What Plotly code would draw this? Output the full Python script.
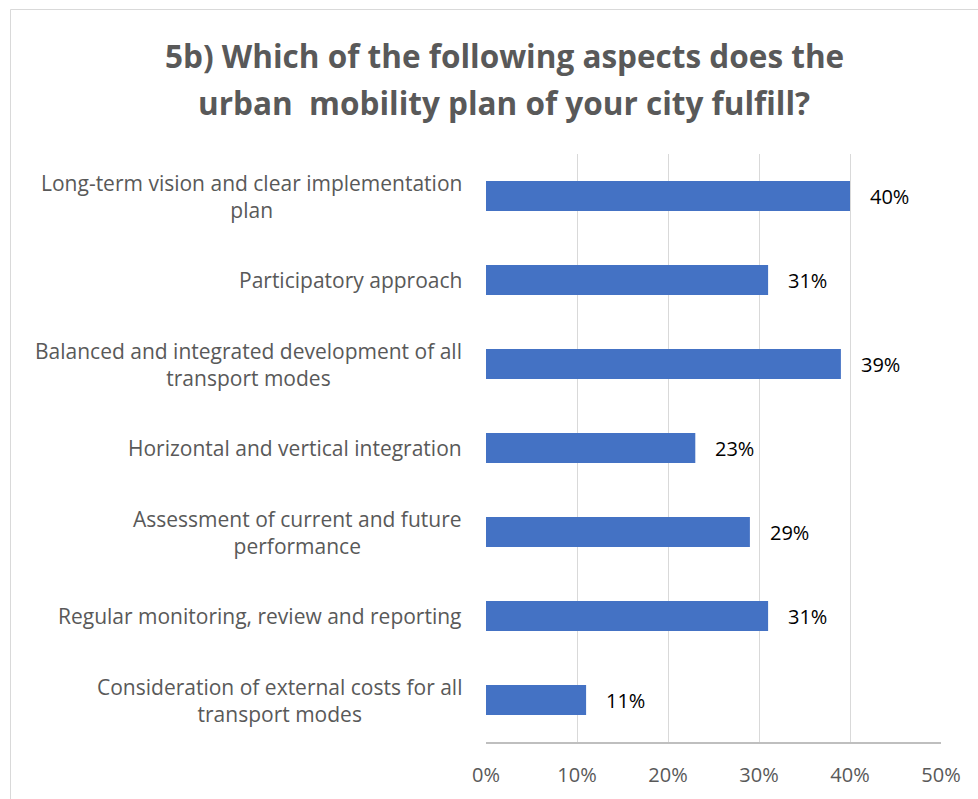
import plotly.graph_objects as go

# Survey results: share of cities whose urban mobility plan fulfils each aspect
categories = [
    "Long-term vision and clear implementation<br>plan",
    "Participatory approach",
    "Balanced and integrated development of all<br>transport modes",
    "Horizontal and vertical integration",
    "Assessment of current and future<br>performance",
    "Regular monitoring, review and reporting",
    "Consideration of external costs for all<br>transport modes",
]
values = [40, 31, 39, 23, 29, 31, 11]
value_labels = ["40%", "31%", "39%", "23%", "29%", "31%", "11%"]
x_ticks = [0, 10, 20, 30, 40, 50]
x_tick_labels = ["0%", "10%", "20%", "30%", "40%", "50%"]
title_lines = [
    "5b) Which of the following aspects does the",
    "urban  mobility plan of your city fulfill?",
]

W, H = 978, 799
ML, MR, MT, MB = 486, 37, 154, 57
pw, ph = W - ML - MR, H - MT - MB

FONT = "Open Sans"
BAR = "#4472C4"
GRID = "#D9D9D9"
LABEL = "#595959"


def px_x(p):
    return (p - ML) / pw


def px_y(p):
    return (H - MB - p) / ph


fig = go.Figure(go.Bar(
    x=values,
    y=categories,
    orientation="h",
    marker=dict(color=BAR, line=dict(width=0)),
    width=0.36,
    hoverinfo="skip",
))

# value labels to the right of each bar
for c, v, t in zip(categories, values, value_labels):
    fig.add_annotation(x=v, y=c, xref="x", yref="y", text=t, showarrow=False,
                       xanchor="left", yanchor="middle", xshift=18,
                       font=dict(family=FONT, size=20, color="#000000"))

# category labels, centred per line and right-aligned to the axis
for c in categories:
    fig.add_annotation(x=0, y=c, xref="paper", yref="y", text=c, showarrow=False,
                       xanchor="right", yanchor="middle", xshift=-22, align="center",
                       font=dict(family=FONT, size=21, color=LABEL))

# two-line title
for line, ypx in zip(title_lines, [55, 103]):
    fig.add_annotation(x=px_x(504), y=px_y(ypx), xref="paper", yref="paper",
                       text=f"<b>{line}</b>", showarrow=False,
                       xanchor="center", yanchor="middle",
                       font=dict(family=FONT, size=31.5, color=LABEL))

# chart frame
fig.add_shape(type="rect", xref="paper", yref="paper",
              x0=px_x(10.5), x1=px_x(1000), y0=px_y(9.5), y1=px_y(1000),
              line=dict(color="#D9D9D9", width=1), layer="below")

fig.update_layout(
    width=W, height=H,
    margin=dict(l=ML, r=MR, t=MT, b=MB),
    paper_bgcolor="white", plot_bgcolor="white",
    showlegend=False,
    xaxis=dict(
        range=[0, 50], tickvals=x_ticks, ticktext=x_tick_labels,
        showgrid=True, gridcolor=GRID, gridwidth=1,
        zeroline=False, showline=True, linecolor="#BFBFBF", linewidth=1.5,
        ticks="", tickfont=dict(family=FONT, size=20, color=LABEL),
        ticklabelstandoff=14, fixedrange=True,
    ),
    yaxis=dict(
        autorange="reversed", showticklabels=False, showgrid=False,
        zeroline=False, showline=False, ticks="", fixedrange=True,
    ),
)

fig.write_html("out.html")
